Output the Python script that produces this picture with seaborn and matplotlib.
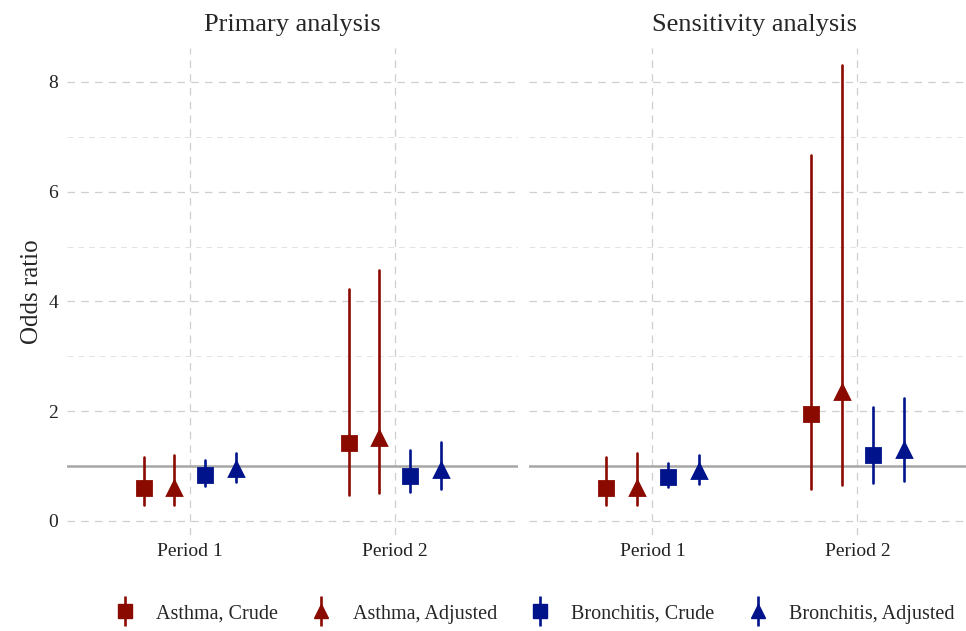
import numpy as np
import pandas as pd
import matplotlib
matplotlib.use("Agg")
import matplotlib.pyplot as plt
import seaborn as sns
from matplotlib.lines import Line2D
from matplotlib.legend_handler import HandlerTuple

# ---- data ----
periods = ["Period 1", "Period 2"]
series = ["Asthma, Crude", "Asthma, Adjusted", "Bronchitis, Crude", "Bronchitis, Adjusted"]
panels = ["Primary analysis", "Sensitivity analysis"]

# estimates per series: [Period 1, Period 2]
primary_est = [[0.60, 1.42], [0.60, 1.51], [0.83, 0.82], [0.94, 0.93]]
primary_lo = [[0.29, 0.47], [0.29, 0.51], [0.64, 0.53], [0.71, 0.58]]
primary_hi = [[1.16, 4.23], [1.20, 4.57], [1.10, 1.29], [1.23, 1.43]]

sens_est = [[0.60, 1.94], [0.60, 2.34], [0.80, 1.20], [0.90, 1.29]]
sens_lo = [[0.29, 0.58], [0.29, 0.65], [0.61, 0.69], [0.67, 0.73]]
sens_hi = [[1.17, 6.66], [1.23, 8.31], [1.06, 2.07], [1.20, 2.23]]

colors = ["#8b0a00", "#8b0a00", "#00138b", "#00138b"]
markers = ["s", "^", "s", "^"]

rows = []
for panel, est, lo, hi in [(panels[0], primary_est, primary_lo, primary_hi),
                           (panels[1], sens_est, sens_lo, sens_hi)]:
    for si, s in enumerate(series):
        for pi, p in enumerate(periods):
            for v in (lo[si][pi], est[si][pi], hi[si][pi]):
                rows.append({"panel": panel, "series": s, "period": p, "value": v})
df = pd.DataFrame(rows)

# ---- plot ----
sns.set_theme(style="white")
plt.rcParams["font.family"] = ["Liberation Serif", "DejaVu Serif"]

fig = plt.figure(figsize=(9.66, 6.31), dpi=100)
axes = [fig.add_axes([0.069, 0.152, 0.467, 0.772]),
        fig.add_axes([0.548, 0.152, 0.467, 0.772])]

grid_kw = dict(color="#cfcfcf", linestyle=(0, (6, 5)), linewidth=0.9)
for ax, panel in zip(axes, panels):
    sub = df[df["panel"] == panel]
    sns.pointplot(data=sub, x="period", y="value", hue="series",
                  order=periods, hue_order=series,
                  palette=colors, markers=markers, linestyles=["none"] * 4,
                  dodge=0.45, estimator="median", errorbar=("pi", 100),
                  markersize=9.5, err_kws={"linewidth": 1.9},
                  legend=False, ax=ax)
    ax.axhline(1, color="#a6a6a6", linewidth=1.8, zorder=1.5)
    ax.set_xlim(-0.6, 1.6)
    ax.set_ylim(-0.26, 8.62)
    ax.set_yticks([0, 2, 4, 6, 8])
    ax.set_yticks([1, 3, 5, 7], minor=True)
    ax.set_axisbelow(True)
    ax.grid(which="major", axis="both", **grid_kw)
    ax.grid(which="minor", axis="y", color="#e3e3e3", linestyle=(0, (6, 5)), linewidth=0.7)
    for sp in ax.spines.values():
        sp.set_visible(False)
    ax.tick_params(length=0, labelsize=14, colors="#222222", pad=6)
    ax.set_xlabel("")
    ax.set_title(panel, fontsize=19, pad=12)

axes[0].set_ylabel("Odds ratio", fontsize=18)
axes[0].set_yticklabels(["0", "2", "4", "6", "8"])
axes[1].set_ylabel("")
axes[1].set_yticklabels([])

handles = []
for c, m in zip(colors, markers):
    vline = Line2D([], [], color=c, marker="|", markersize=22, markeredgewidth=1.9, linestyle="none")
    pt = Line2D([], [], color=c, marker=m, markersize=9.5, linestyle="none")
    handles.append((vline, pt))
fig.legend(handles, series, handler_map={tuple: HandlerTuple(ndivide=1)},
           loc="center", bbox_to_anchor=(0.551, 0.027), ncol=4, frameon=False,
           fontsize=14.5, handlelength=1.5, columnspacing=1.4, handletextpad=0.8)

fig.savefig("out.png", dpi=100)
